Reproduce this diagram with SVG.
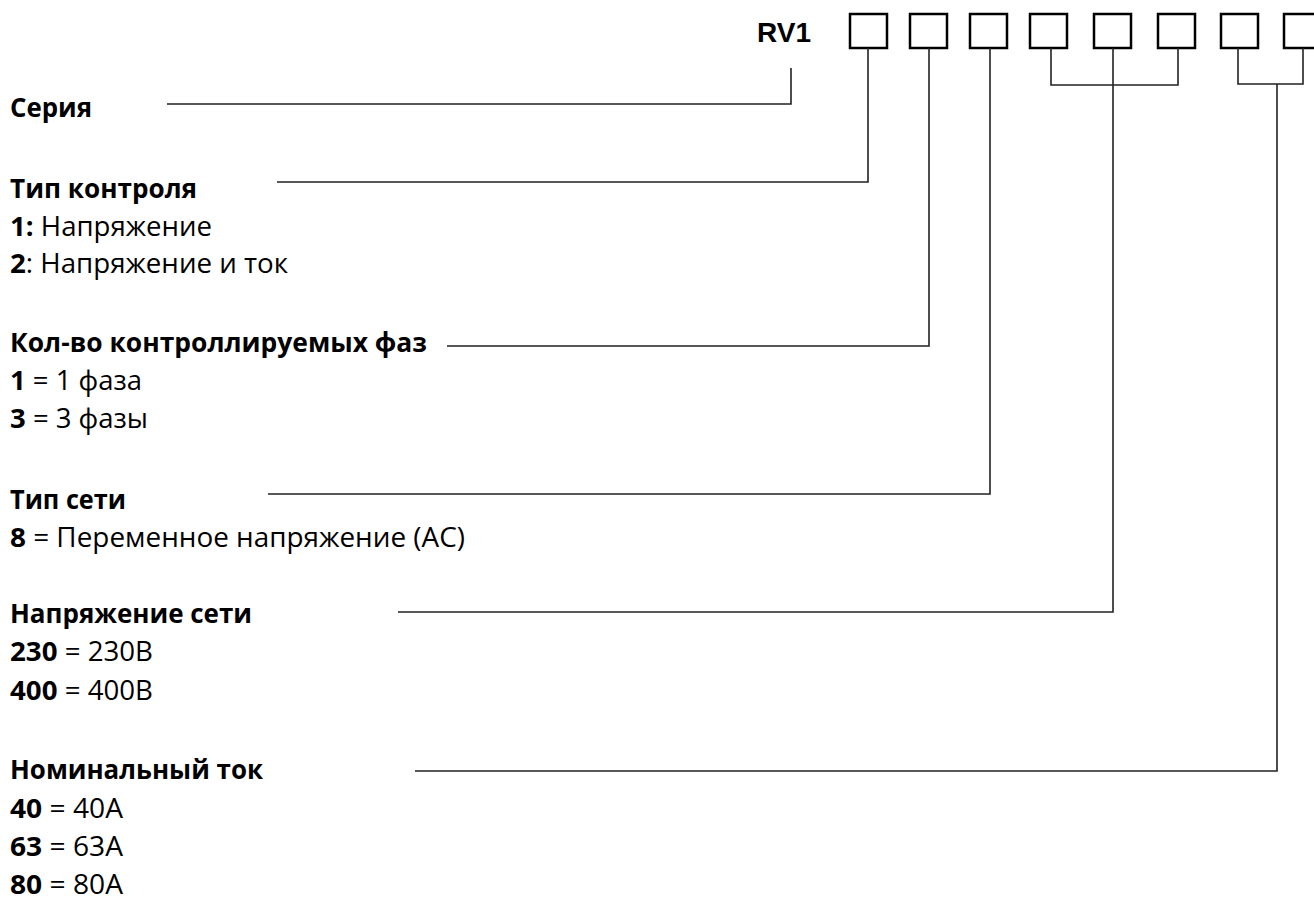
<svg xmlns="http://www.w3.org/2000/svg" width="1314" height="897" viewBox="0 0 1314 897">
<style>
.t{font-family:"Open Sans","Noto Sans","DejaVu Sans",sans-serif;font-size:27px;fill:#000}
.b{font-weight:bold}
.rv{font-family:"Liberation Sans",Arial,sans-serif;font-size:28px;font-weight:bold;fill:#000}
.box{fill:#fff;stroke:#000;stroke-width:2.5}
.c{fill:none;stroke:#222;stroke-width:1.6}
</style>
<rect width="1314" height="897" fill="#fff"/>
<g id="code">
<text class="rv" x="757" y="42">RV1</text>
<rect class="box" x="850" y="14" width="37" height="34"/>
<rect class="box" x="910" y="14" width="37" height="34"/>
<rect class="box" x="970" y="14" width="37" height="34"/>
<rect class="box" x="1030" y="14" width="37" height="34"/>
<rect class="box" x="1094" y="14" width="37" height="34"/>
<rect class="box" x="1158" y="14" width="37" height="34"/>
<rect class="box" x="1221" y="14" width="37" height="34"/>
<rect class="box" x="1284" y="14" width="37" height="34"/>
</g>
<g id="connectors">
<path class="c" d="M167,104 H791 V68"/>
<path class="c" d="M277,182 H868 V48"/>
<path class="c" d="M447,346 H929 V48"/>
<path class="c" d="M268,494 H990 V48"/>
<path class="c" d="M1051,48 V85 H1178 V48"/>
<path class="c" d="M398,612 H1113 V48"/>
<path class="c" d="M1238,48 V84 H1303 V48"/>
<path class="c" d="M415,771 H1277 V84"/>
</g>
<g id="seriya">
<text class="t b" x="10" y="117" textLength="82" lengthAdjust="spacingAndGlyphs">Серия</text>
</g>
<g id="tip-kontrolya">
<text class="t b" x="10" y="198" textLength="187" lengthAdjust="spacingAndGlyphs">Тип контроля</text>
<text class="t" x="10" y="236" textLength="202" lengthAdjust="spacingAndGlyphs"><tspan class="b">1:</tspan> Напряжение</text>
<text class="t" x="10" y="273" textLength="278" lengthAdjust="spacingAndGlyphs"><tspan class="b">2</tspan>: Напряжение и ток</text>
</g>
<g id="faz">
<text class="t b" x="10" y="352" textLength="417" lengthAdjust="spacingAndGlyphs">Кол-во контроллируемых фаз</text>
<text class="t" x="10" y="390" textLength="132" lengthAdjust="spacingAndGlyphs"><tspan class="b">1</tspan> = 1 фаза</text>
<text class="t" x="10" y="428" textLength="138" lengthAdjust="spacingAndGlyphs"><tspan class="b">3</tspan> = 3 фазы</text>
</g>
<g id="tip-seti">
<text class="t b" x="10" y="509" textLength="116" lengthAdjust="spacingAndGlyphs">Тип сети</text>
<text class="t" x="10" y="547" textLength="455" lengthAdjust="spacingAndGlyphs"><tspan class="b">8</tspan> = Переменное напряжение (AC)</text>
</g>
<g id="napryazhenie-seti">
<text class="t b" x="10" y="623" textLength="242" lengthAdjust="spacingAndGlyphs">Напряжение сети</text>
<text class="t" x="10" y="661" textLength="143" lengthAdjust="spacingAndGlyphs"><tspan class="b">230</tspan> = 230В</text>
<text class="t" x="10" y="700" textLength="143" lengthAdjust="spacingAndGlyphs"><tspan class="b">400</tspan> = 400В</text>
</g>
<g id="nominalnyi-tok">
<text class="t b" x="10" y="779" textLength="253" lengthAdjust="spacingAndGlyphs">Номинальный ток</text>
<text class="t" x="10" y="818" textLength="113" lengthAdjust="spacingAndGlyphs"><tspan class="b">40</tspan> = 40А</text>
<text class="t" x="10" y="856" textLength="113" lengthAdjust="spacingAndGlyphs"><tspan class="b">63</tspan> = 63А</text>
<text class="t" x="10" y="894" textLength="113" lengthAdjust="spacingAndGlyphs"><tspan class="b">80</tspan> = 80А</text>
</g>
</svg>
